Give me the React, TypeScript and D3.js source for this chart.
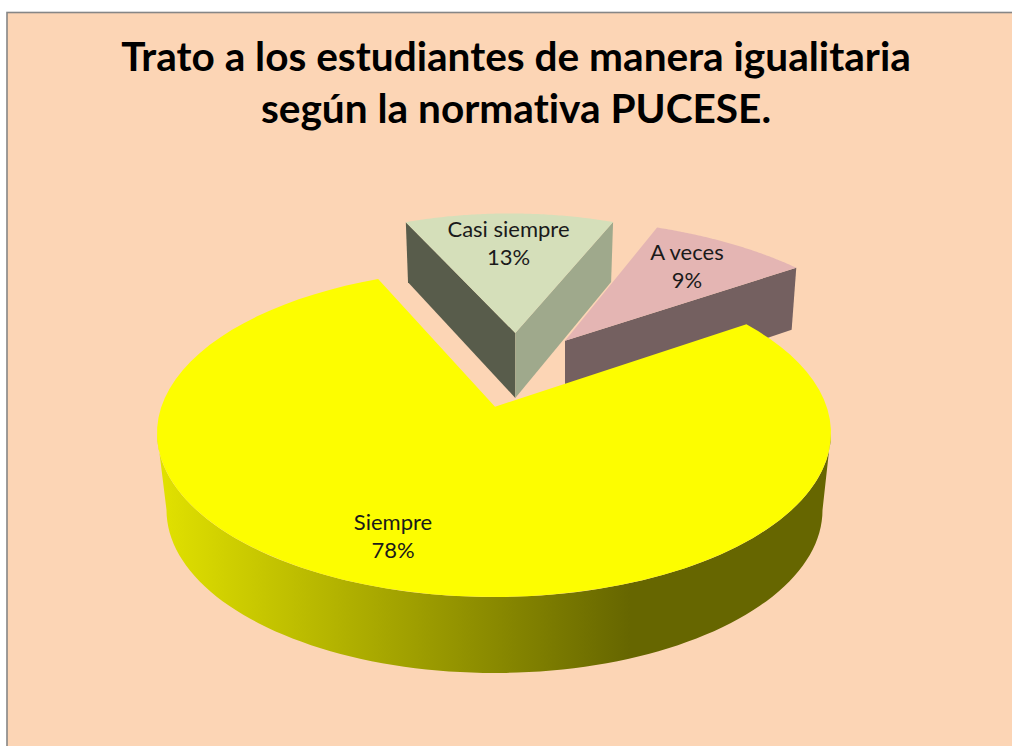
import React from "react";
import * as d3 from "d3";

const titleLines = ["Trato a los estudiantes de manera igualitaria", "según la normativa PUCESE."];
const categories = ["Siempre", "Casi siempre", "A veces"];
const percentages = [78, 13, 9];
const topColors = ["#fdfd00", "#d5dfba", "#e4b5b3"];

const deg = Math.PI / 180;
const cx = 494, cy = 433, rx = 337, ry = 164;
const lower = { cx: 494.5, cy: 510, rx: 328, ry: 163 };
const apex: [number, number] = [495, 406.7];
const k = 0.0796;

// Perspective-corrected rim point of the pie disc for a true pie angle (clockwise from top)
function rim(theta: number): [number, number] {
  const zr = Math.sin(theta), zi = -Math.cos(theta);
  // w = (z + a) / (1 + conj(a) z), a = -ik
  const nr = zr, ni = zi - k;
  const dr = 1 - k * zi, di = k * zr;
  const den = dr * dr + di * di;
  const wr = (nr * dr + ni * di) / den;
  const wi = (ni * dr - nr * di) / den;
  return [cx + rx * wr, cy + ry * wi];
}

const pieGen = d3.pie<number>().sort(null).startAngle(55.7 * deg).endAngle(55.7 * deg + 2 * Math.PI);
const arcs = pieGen(percentages);
const lineGen = d3.line();

function sampleAngles(a0: number, a1: number) {
  const n = 80;
  return d3.range(n + 1).map((i) => a0 + ((a1 - a0) * i) / n);
}

// exploded slice placement
const casiPlace = { ax: 515.3, ay: 333, sx: 0.898, sk: 0.0354, sy: 0.868 };
const vecesPlace = { ax: 565, ay: 340.7, sx: 0.966, sk: 0.1404, sy: 0.885 };
type Place = typeof casiPlace;

function place(p: [number, number], s: Place): [number, number] {
  const x = p[0] - apex[0], y = p[1] - apex[1];
  return [s.ax + s.sx * x + s.sk * y, s.ay + s.sy * y];
}
function low(p: [number, number], s: Place): [number, number] {
  const d = 60 + ((p[1] - 222) * 5) / 111;
  return [p[0] + (s.ax - p[0]) * 0.02, p[1] + d];
}

function sliceTop(i: number, s: Place) {
  const pts = sampleAngles(arcs[i].startAngle, arcs[i].endAngle).map((t) => place(rim(t), s));
  return { pts, d: lineGen([[s.ax, s.ay], ...pts])! + "Z" };
}

const casi = sliceTop(1, casiPlace);
const veces = sliceTop(2, vecesPlace);
const casiApex: [number, number] = [casiPlace.ax, casiPlace.ay];
const vecesApex: [number, number] = [vecesPlace.ax, vecesPlace.ay];
const casiL = casi.pts[0], casiR = casi.pts[casi.pts.length - 1];
const vecesR = veces.pts[veces.pts.length - 1];

const wallPath = (a: [number, number], b: [number, number], s: Place) =>
  lineGen([a, b, low(b, s), low(a, s)])! + "Z";

const yellowTop =
  lineGen([apex, ...sampleAngles(arcs[0].startAngle, arcs[0].endAngle).map(rim)])! + "Z";

const wallUpper = d3.range(0, 181, 2).map((t): [number, number] => [
  cx + rx * Math.cos(t * deg),
  cy + ry * Math.sin(t * deg),
]);
const wallLower = d3.range(180, -1, -2).map((t): [number, number] => [
  lower.cx + lower.rx * Math.cos(t * deg),
  lower.cy + lower.ry * Math.sin(t * deg),
]);
const yellowWall = lineGen([...wallUpper, ...wallLower])! + "Z";

const labelPos = [
  { x: 393, y: 530 },
  { x: 508.5, y: 237 },
  { x: 687, y: 260 },
];

export default function App() {
  return (
    <svg
      width={1012}
      height={746}
      viewBox="0 0 1012 746"
      style={{ position: "absolute", left: 0, top: 0, display: "block", background: "#fff", fontVariantLigatures: "none" }}
    >
      <defs>
        <linearGradient id="wallGrad" gradientUnits="userSpaceOnUse" x1={157} x2={630} y1={0} y2={0}>
          <stop offset="0" stopColor="#e2e200" />
          <stop offset="1" stopColor="#666600" />
        </linearGradient>
      </defs>
      <rect x={7} y={12.5} width={1010} height={740} fill="#fcd5b5" stroke="#868686" strokeWidth={1.6} />

      <g fontFamily="Lato, sans-serif" fontWeight={700} fontSize={40.6} textAnchor="middle" fill="#000">
        {titleLines.map((t, i) => (
          <text key={t} x={516} y={71 + i * 52}>{t}</text>
        ))}
      </g>

      <path d={wallPath(casiApex, casiL, casiPlace)} fill="#585c4b" />
      <path d={wallPath(casiApex, casiR, casiPlace)} fill="#9fa98c" />
      <path d={casi.d} fill={topColors[1]} />

      <path d={wallPath(vecesApex, vecesR, vecesPlace)} fill="#746060" />
      <path d={veces.d} fill={topColors[2]} />

      <path d={yellowWall} fill="url(#wallGrad)" />
      <path d={yellowTop} fill={topColors[0]} />

      <g fontFamily="Lato, sans-serif" fontSize={22} textAnchor="middle" fill="#1a1a1a">
        {categories.map((c, i) => (
          <text key={c}>
            <tspan x={labelPos[i].x} y={labelPos[i].y}>{c}</tspan>
            <tspan x={labelPos[i].x} y={labelPos[i].y + 28}>{percentages[i]}%</tspan>
          </text>
        ))}
      </g>
    </svg>
  );
}
